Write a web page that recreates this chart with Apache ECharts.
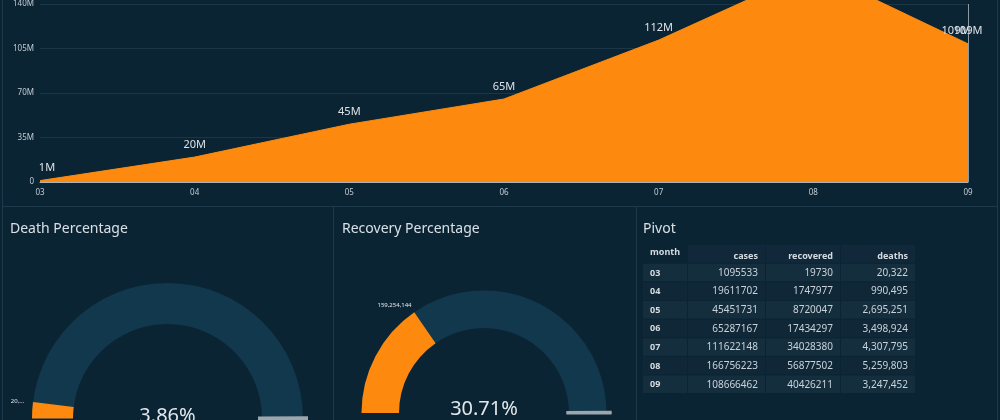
<!DOCTYPE html>
<html><head><meta charset="utf-8">
<script src="https://cdn.jsdelivr.net/npm/echarts@6/dist/echarts.min.js"></script>
<style>html,body{margin:0;padding:0;background:#0b2434;}#c{width:1000px;height:420px;}</style>
</head><body><div id="c"></div>
<script>
// ---- data ----
const months = ['03','04','05','06','07','08','09'];
const cases = [1095533,19611702,45451731,65287167,111622148,166756223,108666462];
const recovered = [19730,1747977,8720047,17434297,34028380,56877502,40426211];
const deaths = [20322,990495,2695251,3498924,4307795,5259803,3247452];
const yTicks = [0,35e6,70e6,105e6,140e6];
const tableHeaders = ['month','cases','recovered','deaths'];
const panelTitles = ['Death Percentage','Recovery Percentage','Pivot'];

// ---- style config ----
const FONT = 'Noto Sans';
const ORANGE = '#fd8a0e';
const BG = '#0b2434';
const TRACK = '#11384c';
const BORDER = '#1e3a4a';
const colW = [45,78,75,75];

const sum = a => a.reduce((s,v)=>s+v,0);
const fmt = n => n.toLocaleString('en-US');
const totCases = sum(cases), totDeaths = sum(deaths), totRec = sum(recovered);
const deathPct = totDeaths/totCases*100;
const recPct = totRec/totCases*100;

const colX = [0];
colW.forEach((w,i)=>colX.push(colX[i]+w));

const cellData = [];
tableHeaders.forEach((h,c)=>cellData.push([colX[c], colX[c+1], 0, h, c, 'h']));
months.forEach((m,i)=>{
  const vals = [m, String(cases[i]), String(recovered[i]), fmt(deaths[i])];
  vals.forEach((t,c)=>cellData.push([colX[c], colX[c+1], i+1, t, c, i%2===0?'a':'b']));
});

function renderCell(params, api){
  const d = cellData[params.dataIndex];
  const p0 = api.coord([d[0], d[2]]);
  const p1 = api.coord([d[1], d[2]]);
  const h = api.size([0,1])[1];
  const c = d[4], kind = d[5];
  let fill = 'transparent';
  if (kind === 'h') fill = c === 0 ? 'transparent' : '#10283a';
  else if (kind === 'a') fill = '#152e3e';
  else fill = '#0f2737';
  const top = p0[1]-h/2;
  const bold = kind === 'h' || c === 0;
  let ty = p0[1];
  if (kind === 'h') ty = c === 0 ? top + 7 : top + 11;
  return {type:'group', children:[
    {type:'rect', shape:{x:p0[0], y:top, width:p1[0]-p0[0]-1, height:h-1}, style:{fill}},
    {type:'text', style:{text:d[3], x: c===0 ? p0[0]+7 : p1[0]-8, y: ty,
      align: c===0?'left':'right', verticalAlign:'middle', fill: bold ? '#d5dce1' : '#c9d2d8',
      font: (bold ? 'bold ' : '') + (bold ? '9px ' : '10px ') + FONT}}
  ]};
}

function gauge(center, radius, width, pct, name, titleOff, detailOff){
  return {
    type:'gauge', center, radius, startAngle:180, endAngle:0, min:0, max:100,
    splitNumber:1,
    axisLine:{show:true, lineStyle:{width, color:[[1,TRACK]]}},
    progress:{show:true, width, itemStyle:{color:ORANGE}},
    pointer:{show:false}, axisTick:{show:false}, splitLine:{show:false}, axisLabel:{show:false},
    anchor:{show:false},
    title:{show:true, offsetCenter:titleOff, fontSize:6, color:'#e3e8eb', fontFamily:FONT},
    detail:{show:true, offsetCenter:detailOff, fontSize:20, color:'#e2e7eb', fontFamily:FONT,
      fontWeight:'normal', formatter: v => v.toFixed(2)+'%'},
    data:[{value:pct, name}]
  };
}
function endBar(center, radius, len, dist){
  return {
    type:'gauge', center, radius, startAngle:0.3, endAngle:0, min:0, max:1, splitNumber:1,
    axisLine:{show:false, lineStyle:{width:0}}, progress:{show:false},
    pointer:{show:false}, axisTick:{show:false}, axisLabel:{show:false}, anchor:{show:false},
    splitLine:{show:true, length:len, distance:dist, lineStyle:{color:'#9ba6ad', width:3}},
    title:{show:false}, detail:{show:false}, data:[{value:0}]
  };
}

const lastIdx = cases.length - 1;
const chart = echarts.init(document.getElementById('c'));
chart.setOption({
  backgroundColor: BG,
  textStyle:{fontFamily:FONT},
  animation:false,
  title: [
    {text:panelTitles[0], left:10, top:222, padding:0, textStyle:{fontSize:14, color:'#d9e0e5', fontWeight:'normal', fontFamily:FONT}},
    {text:panelTitles[1], left:342, top:222, padding:0, textStyle:{fontSize:14, color:'#d9e0e5', fontWeight:'normal', fontFamily:FONT}},
    {text:panelTitles[2], left:643, top:222, padding:0, textStyle:{fontSize:14, color:'#d9e0e5', fontWeight:'normal', fontFamily:FONT}}
  ],
  graphic: [
    {type:'rect', silent:true, z:-10, shape:{x:2.5,y:-2,width:995,height:208.5}, style:{fill:'none', stroke:BORDER, lineWidth:1}},
    {type:'rect', silent:true, z:-10, shape:{x:2.5,y:206.5,width:331,height:216}, style:{fill:'none', stroke:BORDER, lineWidth:1}},
    {type:'rect', silent:true, z:-10, shape:{x:333.5,y:206.5,width:303,height:216}, style:{fill:'none', stroke:BORDER, lineWidth:1}},
    {type:'rect', silent:true, z:-10, shape:{x:636.5,y:206.5,width:361,height:216}, style:{fill:'none', stroke:BORDER, lineWidth:1}}
  ],
  grid: [
    {left:40, right:32, top:3, bottom:238},
    {left:643, top:245, width:colX[colX.length-1], height:149}
  ],
  xAxis: [
    {type:'category', gridIndex:0, data:months, boundaryGap:false,
      axisLine:{show:true, lineStyle:{color:'#aab4ba', width:1}}, axisTick:{show:false},
      axisLabel:{color:'#c2cbd1', fontSize:8, margin:7}},
    {type:'value', gridIndex:1, min:0, max:colX[colX.length-1], show:false}
  ],
  yAxis: [
    {type:'value', gridIndex:0, min:yTicks[0], max:yTicks[yTicks.length-1], interval:yTicks[1]-yTicks[0],
      axisLine:{show:false}, axisTick:{show:false},
      splitLine:{lineStyle:{color:'#1b3747', width:1}},
      axisLabel:{color:'#c2cbd1', fontSize:8, margin:6, formatter: v => v===0 ? '0' : (v/1e6)+'M'}},
    {type:'category', gridIndex:1, data:['hdr'].concat(months), inverse:true, show:false}
  ],
  series: [
    {
      type:'line', xAxisIndex:0, yAxisIndex:0, clip:false, symbol:'circle', symbolSize:0, showSymbol:true,
      itemStyle:{color:ORANGE},
      data: cases,
      lineStyle:{width:1, color:ORANGE}, areaStyle:{color:ORANGE, opacity:1},
      label:{show:true, position:'top', distance:7, color:'#dde3e8', fontSize:11, formatter: p => Math.round(p.value/1e6)+'M'},
      labelLayout: p => (p.dataIndex === 0 ? {dx:7} : (p.dataIndex === lastIdx ? {dx:-12} : {})),
      markLine:{silent:true, symbol:'none', label:{show:false}, lineStyle:{color:'#8d9aa3', width:1, type:'solid'},
        data:[{xAxis:months[lastIdx]}]},
      markPoint:{silent:true, symbol:'circle', symbolSize:0,
        label:{show:true, position:'top', distance:7, color:'#dde3e8', fontSize:11, formatter: p => Math.round(p.value/1e6)+'M'},
        data:[{coord:[months[lastIdx], cases[lastIdx]], value:cases[lastIdx]}]}
    },
    gauge([167.5,418.5], 135.5, 41, deathPct, fmt(totDeaths).slice(0,3)+'...', [-150,-17.5], [0,-2]),
    endBar([167.5,418.5], 135.5, 50, -5),
    gauge([484,413], 122.5, 37.5, recPct, fmt(totRec), [-89.5,-108], [0,-4]),
    endBar([484,413], 122.5, 45, -5),
    {
      type:'custom', xAxisIndex:1, yAxisIndex:1, renderItem:renderCell,
      encode:{x:[0,1], y:2}, data: cellData.map(d=>[d[0], d[1], d[2]]), silent:true
    }
  ]
});
</script></body></html>
